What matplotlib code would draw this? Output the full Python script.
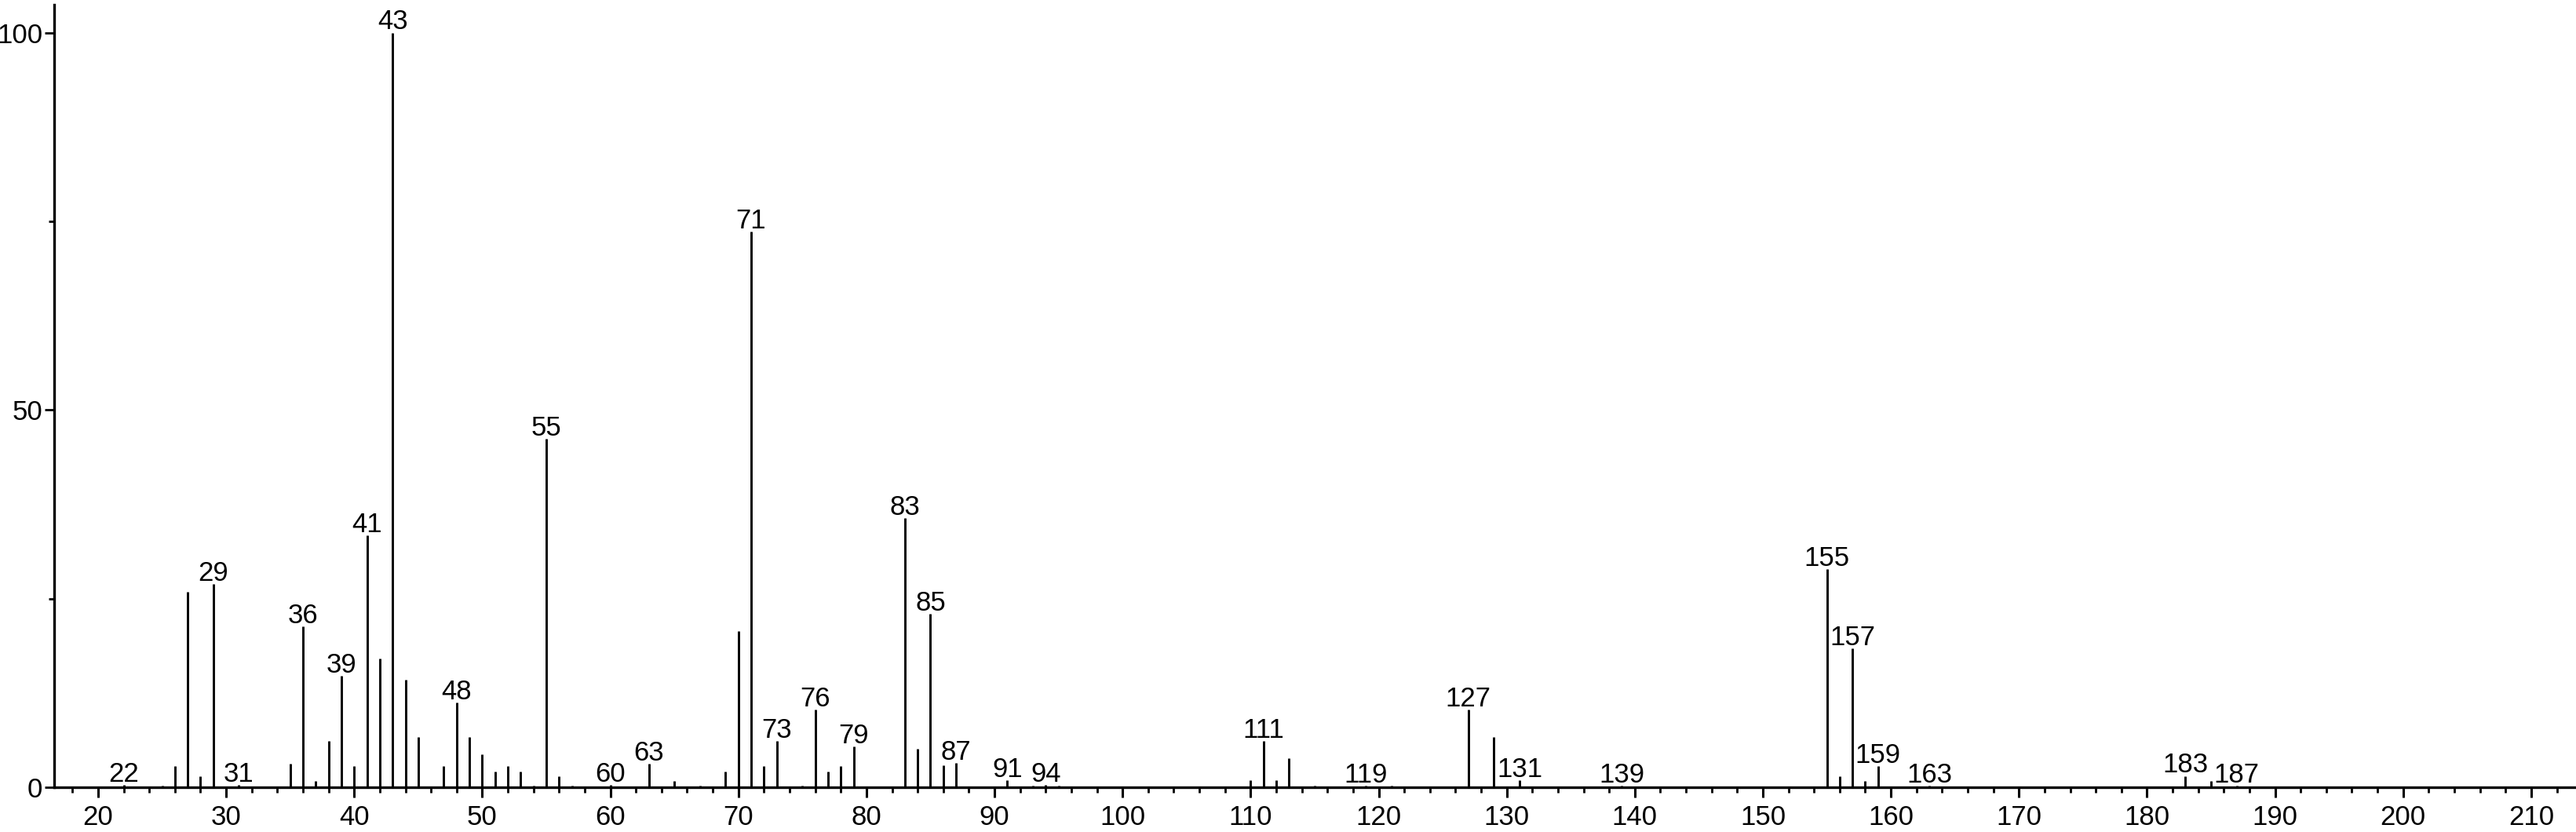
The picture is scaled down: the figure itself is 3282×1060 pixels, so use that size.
import matplotlib
matplotlib.use("Agg")
import matplotlib.pyplot as plt
from matplotlib.ticker import MultipleLocator

# m/z values and relative intensities (%)
mz = [22, 25, 26, 27, 28, 29, 31, 35, 36, 37, 38, 39, 40, 41, 42, 43, 44, 45,
      47, 48, 49, 50, 51, 52, 53, 54, 55, 56, 57, 60, 63, 65, 67, 69, 70, 71,
      72, 73, 75, 76, 77, 78, 79, 83, 84, 85, 86, 87, 91, 93, 94, 95, 110, 111,
      112, 113, 115, 119, 121, 127, 129, 131, 139, 155, 156, 157, 158, 159, 163,
      183, 185, 187]
intensity = [0.3, 0.2, 2.8, 25.9, 1.5, 26.9, 0.3, 3.1, 21.3, 0.8, 6.1, 14.8,
             2.8, 33.4, 17.1, 100.0, 14.2, 6.7, 2.8, 11.2, 6.7, 4.4, 2.1, 2.8,
             2.1, 0.2, 46.2, 1.5, 0.2, 0.3, 3.1, 0.8, 0.2, 2.1, 20.7, 73.6,
             2.8, 6.1, 0.2, 10.3, 2.1, 2.8, 5.4, 35.7, 5.1, 23.0, 2.9, 3.2,
             0.9, 0.2, 0.3, 0.2, 0.9, 6.1, 0.9, 3.9, 0.2, 0.2, 0.2, 10.3, 6.7,
             0.9, 0.2, 28.9, 1.5, 18.4, 0.8, 2.8, 0.2, 1.5, 0.8, 0.2]
labeled = [22, 29, 31, 36, 39, 41, 43, 48, 55, 60, 63, 71, 73, 76, 79, 83, 85,
           87, 91, 94, 111, 119, 127, 131, 139, 155, 157, 159, 163, 183, 187]

FONT = "Liberation Sans"

fig = plt.figure(figsize=(32.82, 10.60), dpi=100)
ax = fig.add_axes([69 / 3282, (1060 - 1003) / 1060, 1 - 69 / 3282, (1003 - 6) / 1060])

ax.vlines(mz, 0, intensity, color="black", linewidth=2.1)

lookup = dict(zip(mz, intensity))
for m in labeled:
    ax.annotate(str(m), (m, lookup[m]), xytext=(0, 3), textcoords="offset points",
                ha="center", va="baseline", fontsize=25, family=FONT)

ax.set_xlim(16.57, 213.5)
ax.set_ylim(0, 103.7)
ax.spines["top"].set_visible(False)
ax.spines["right"].set_visible(False)
ax.spines["left"].set_linewidth(2.4)
ax.spines["bottom"].set_linewidth(2.4)

ax.xaxis.set_major_locator(MultipleLocator(10))
ax.xaxis.set_minor_locator(MultipleLocator(2))
ax.yaxis.set_major_locator(MultipleLocator(50))
ax.yaxis.set_minor_locator(MultipleLocator(25))
ax.tick_params(axis="x", which="major", length=9.5, width=2.2, direction="out", pad=6)
ax.tick_params(axis="x", which="minor", length=5, width=2.0, direction="out")
ax.tick_params(axis="y", which="major", length=9, width=2.0, direction="out", pad=1.5)
ax.tick_params(axis="y", which="minor", length=5, width=2.0, direction="out")
for lbl in ax.get_xticklabels() + ax.get_yticklabels():
    lbl.set_fontsize(25)
    lbl.set_family(FONT)

fig.savefig("out.png", dpi=100)
